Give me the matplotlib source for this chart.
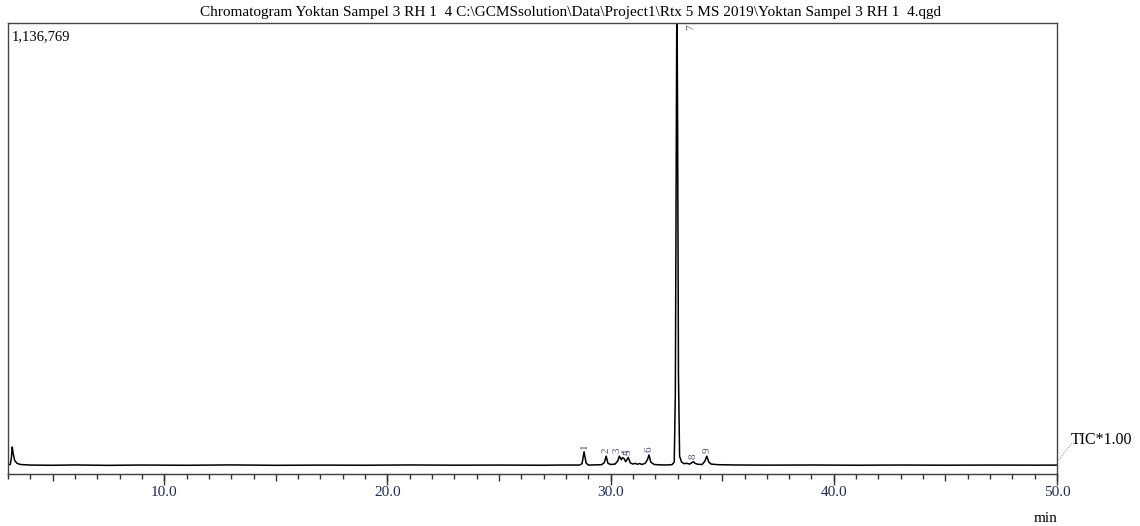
import numpy as np
import matplotlib.pyplot as plt
from matplotlib.ticker import MultipleLocator, NullFormatter, FormatStrFormatter

plt.rcParams['font.family'] = ['Liberation Serif', 'DejaVu Serif']

# TIC trace (retention time in min, intensity in counts)
rt = [3.00, 3.10, 3.15, 3.19, 3.23, 3.30, 3.40, 3.55, 4.0, 5.0, 6.0, 7.5,
      9.0, 11.0, 13.0, 15.0, 17.0, 19.0, 21.0, 23.0, 25.0, 27.0, 28.0,
      28.60, 28.72, 28.81, 28.90, 29.00, 29.30, 29.60, 29.72, 29.80, 29.88,
      30.00, 30.20, 30.32, 30.39, 30.48, 30.52, 30.60, 30.68, 30.79, 30.88,
      31.00, 31.10, 31.20, 31.30, 31.40, 31.55, 31.65, 31.72, 31.80, 31.95,
      32.20, 32.50, 32.75, 32.85, 32.90, 32.94, 32.97, 33.00, 33.04, 33.09,
      33.18, 33.30,
      33.40, 33.55, 33.65, 33.71, 33.78, 33.90, 34.10, 34.22, 34.31, 34.40,
      34.50, 34.80, 35.50, 37.0, 39.0, 41.0, 43.0, 45.0, 47.0, 49.0, 50.0]
tic = [23000, 24000, 40000, 68000, 52000, 34000, 27000, 24000, 22500, 22000,
       22800, 21800, 22600, 22000, 22900, 21900, 22400, 22100, 22800, 22200,
       22500, 22100, 22700,
       22500, 26000, 56000, 28000, 22500, 23000, 23500, 29000, 45000, 27000,
       24000, 25000, 33000, 45000, 36000, 41000, 39000, 31000, 42000, 28000,
       25000, 27000, 24500, 26500, 24000, 27000, 36000, 48000, 30000, 24000,
       23000, 22800, 23500, 30000, 200000, 800000, 1250000, 900000, 250000,
       45000, 30000, 26000,
       27000, 25000, 29000, 31000, 27000, 24500, 24000, 32000, 45000, 30000,
       25000, 23500, 22800, 22300, 22700, 22100, 22600, 22200, 22500, 22300, 22400]

# numbered peaks: label, retention time, apex intensity
peak_no = ['1', '2', '3', '4', '5', '6', '7', '8', '9']
peak_rt = [28.81, 29.80, 30.39, 30.52, 30.79, 31.72, 32.97, 33.71, 34.31]
peak_h = [56000, 45000, 45000, 41000, 42000, 48000, 1136769, 31000, 45000]

y_max = 1136769

fig = plt.figure(figsize=(11.4, 5.26), dpi=100)
ax = fig.add_axes([8 / 1140, 52 / 526, 1049 / 1140, 451 / 526])

ax.plot(rt, tic, color='black', lw=1.1)
ax.set_xlim(3.0, 50.0)
ax.set_ylim(0, y_max)

lab_col = '#4a5878'
lab_dx = {'3': -2, '4': 3}
for n, t, h in zip(peak_no, peak_rt, peak_h):
    if n == '7':
        ax.text(t + 0.6, y_max * 0.997, n, rotation=90, fontsize=8,
                color=lab_col, ha='center', va='top')
    else:
        ax.annotate(n, (t, h), xytext=(lab_dx.get(n, 0), 2),
                    textcoords='offset points', rotation=90, fontsize=8,
                    color=lab_col, ha='center', va='bottom')

for s in ax.spines.values():
    s.set_color('#444444')
    s.set_linewidth(1.0)

ax.set_yticks([])
ax.xaxis.set_major_locator(MultipleLocator(5))
ax.xaxis.set_minor_locator(MultipleLocator(1))
ax.xaxis.set_major_formatter(NullFormatter())
ax.tick_params(axis='x', which='major', length=5, width=1, color='#333333')
ax.tick_params(axis='x', which='minor', length=3.5, width=1, color='#333333')

sec = ax.secondary_xaxis('bottom')
sec.set_xticks([10, 20, 30, 40, 50])
sec.xaxis.set_major_formatter(FormatStrFormatter('%.1f'))
sec.tick_params(length=8, width=1, color='#333333', labelsize=11,
                labelcolor='#1f2a4f', pad=1)
sec.spines['bottom'].set_color('#444444')

ax.text(0.004, 0.985, '1,136,769', transform=ax.transAxes, fontsize=10.5,
        ha='left', va='top')

fig.text(0.5, 0.977, 'Chromatogram Yoktan Sampel 3 RH 1  4 C:\\GCMSsolution\\Data\\Project1\\Rtx 5 MS 2019\\Yoktan Sampel 3 RH 1  4.qgd',
         ha='center', va='center', fontsize=11)
fig.text(1046 / 1140, 1 - 518 / 526, 'min', ha='center', va='center', fontsize=11)
fig.text(1071 / 1140, 1 - 440 / 526, 'TIC*1.00', ha='left', va='center', fontsize=11.5)
fig.add_artist(plt.Line2D([1057 / 1140, 1073 / 1140], [1 - 462 / 526, 1 - 442 / 526],
                          transform=fig.transFigure, color='#888888', lw=0.7, ls=':'))

fig.savefig('out.png', dpi=100)
